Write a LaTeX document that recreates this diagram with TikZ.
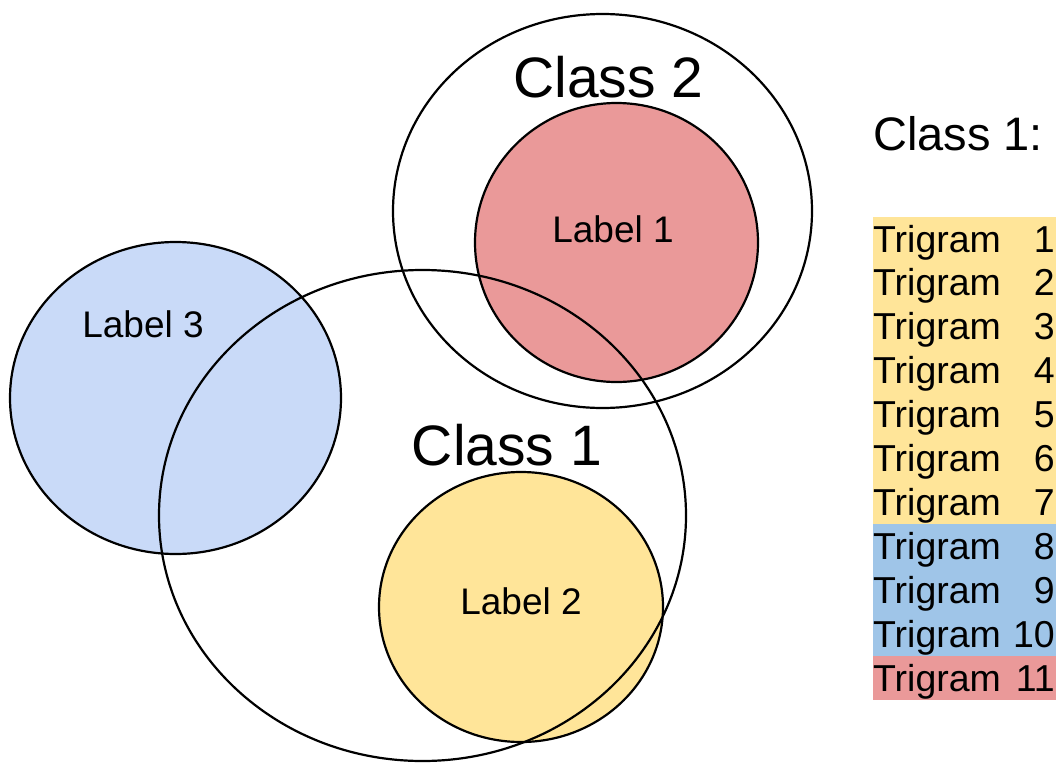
\documentclass[tikz,border=0pt]{standalone}
\usepackage{fontspec}
\setmainfont{Liberation Sans}
\definecolor{setblue}{HTML}{C9DAF8}
\definecolor{setyellow}{HTML}{FFE599}
\definecolor{setpink}{HTML}{EA9999}
\definecolor{rowblue}{HTML}{9FC5E8}
\begin{document}
\begin{tikzpicture}[x=1pt,y=-1pt,
  outline/.style={draw=black,line width=2.2pt},
  bigtext/.style={anchor=base,inner sep=0pt,font=\fontsize{57}{60}\selectfont},
  labeltext/.style={anchor=base,inner sep=0pt,font=\fontsize{37}{40}\selectfont},
  rowtext/.style={inner sep=0pt,font=\fontsize{37.5}{40}\selectfont}]
\useasboundingbox (0,0) rectangle (1063,763);
% fills
\fill[setblue] (175.5,398) ellipse [x radius=165.5, y radius=156];
\fill[setyellow] (521,607) ellipse [x radius=142, y radius=135];
\fill[setpink] (616.5,242.5) ellipse [x radius=141.5, y radius=139.5];
% outlines
\draw[outline] (175.5,398) ellipse [x radius=165.5, y radius=156];
\draw[outline] (521,607) ellipse [x radius=142, y radius=135];
\draw[outline] (616.5,242.5) ellipse [x radius=141.5, y radius=139.5];
\draw[outline] (422.5,515.5) ellipse [x radius=263.5, y radius=245.5];
\draw[outline] (602.5,211) ellipse [x radius=209.5, y radius=197];
% texts
\node[bigtext] (class2) at (608.5,97) {Class 2};
\node[bigtext] (class1) at (507,465) {Class 1};
\node[labeltext] (label1) at (613,242) {Label 1};
\node[labeltext] (label3) at (143,337) {Label 3};
\node[labeltext] (label2) at (521,614) {Label 2};
\node[anchor=base west,inner sep=0pt,font=\fontsize{47}{50}\selectfont] (legend) at (873,150) {Class 1:};
% table rows
\foreach \i in {1,...,7}{
  \fill[setyellow] (873,{217+43.9*(\i-1)}) rectangle (1056,{217+43.9*\i});
}
\foreach \i in {8,9,10}{
  \fill[rowblue] (873,{217+43.9*(\i-1)}) rectangle (1056,{217+43.9*\i});
}
\fill[setpink] (873,{217+43.9*10}) rectangle (1056,{217+43.9*11});
\foreach \i in {1,...,11}{
  \node[rowtext,anchor=base west] (tw\i) at (873,{217+43.9*(\i-1)+35}) {Trigram};
  \node[rowtext,anchor=base east] (tn\i) at (1055,{217+43.9*(\i-1)+35}) {\i};
}
\end{tikzpicture}
\end{document}
